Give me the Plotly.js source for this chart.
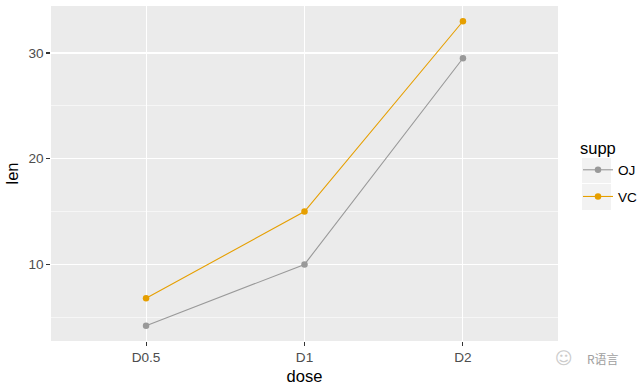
<!DOCTYPE html>
<html>
<head>
<meta charset="utf-8">
<script src="https://cdn.plot.ly/plotly-3.0.1.min.js"></script>
<style>html,body{margin:0;padding:0;background:#fff;}#chart{width:640px;height:387px;}</style>
</head>
<body>
<div id="chart"></div>
<script>
const doses = ["D0.5", "D1", "D2"];
const lenOJ = [4.2, 10, 29.5];
const lenVC = [6.8, 15, 33];
const suppNames = ["OJ", "VC"];
const yTicks = [10, 20, 30];

const font = "Liberation Sans, Arial, sans-serif";
const traces = [
  {x: doses, y: lenOJ, name: suppNames[0], legendgroup: "a", type: "scatter", mode: "lines+markers",
   line: {color: "#999999", width: 1.1}, marker: {color: "#999999", size: 6.5}},
  {x: doses, y: lenVC, name: suppNames[1], legendgroup: "b", type: "scatter", mode: "lines+markers",
   line: {color: "#E69F00", width: 1.1}, marker: {color: "#E69F00", size: 6.5}}
];

// paper coordinate helpers (plot area: x 51..558, y 6..341)
const px = v => (v - 51) / 507;
const py = v => 1 - (v - 6) / 335;

const layout = {
  width: 640, height: 387,
  margin: {l: 51, r: 82, t: 6, b: 46},
  paper_bgcolor: "#ffffff",
  plot_bgcolor: "#EBEBEB",
  font: {family: font, color: "#4D4D4D", size: 13.6},
  showlegend: true,
  xaxis: {
    type: "category", range: [-0.6, 2.6],
    showgrid: true, gridcolor: "#ffffff", gridwidth: 1.1,
    zeroline: false, showline: false,
    ticks: "outside", ticklen: 3.7, tickwidth: 1.1, tickcolor: "#333333",
    tickfont: {family: font, size: 13.6, color: "#4D4D4D"},
    title: {text: "dose", font: {family: font, size: 16.5, color: "#000000"}, standoff: 6}
  },
  yaxis: {
    range: [2.76, 34.44],
    tickvals: yTicks,
    showgrid: true, gridcolor: "#ffffff", gridwidth: 1.1,
    minor: {tickvals: [5, 15, 25], showgrid: true, gridcolor: "#ffffff", gridwidth: 0.55, ticks: ""},
    zeroline: false, showline: false,
    ticks: "outside", ticklen: 3.7, tickwidth: 1.1, tickcolor: "#333333",
    tickfont: {family: font, size: 13.6, color: "#4D4D4D"},
    title: {text: "len", font: {family: font, size: 16.5, color: "#000000"}, standoff: 5}
  },
  legend: {
    xref: "container", yref: "container",
    x: 578/640, y: 1 - 133/387, xanchor: "left", yanchor: "top",
    bgcolor: "rgba(0,0,0,0)",
    title: {text: "supp", font: {family: font, size: 16.5, color: "#000000"}},
    font: {family: font, size: 13.6, color: "#000000"},
    itemwidth: 30, tracegroupgap: 6, traceorder: "grouped"
  },
  shapes: [
    {type: "rect", xref: "paper", yref: "paper", x0: px(582), x1: px(611), y0: py(183), y1: py(158),
     fillcolor: "#F2F2F2", line: {width: 0}, layer: "below"},
    {type: "rect", xref: "paper", yref: "paper", x0: px(582), x1: px(611), y0: py(210), y1: py(184),
     fillcolor: "#F2F2F2", line: {width: 0}, layer: "below"}
  ],
  annotations: [
    {xref: "paper", yref: "paper", x: px(621), y: py(358), xanchor: "right", yanchor: "middle",
     text: "R语言", showarrow: false,
     font: {family: "Noto Sans CJK SC, sans-serif", size: 12, color: "#A0A0A0"}},
    {xref: "paper", yref: "paper", x: px(564), y: py(358), xanchor: "center", yanchor: "middle",
     text: "☺", showarrow: false,
     font: {family: "DejaVu Sans, sans-serif", size: 17, color: "#CCCCCC"}}
  ]
};

Plotly.newPlot("chart", traces, layout, {displayModeBar: false, staticPlot: true});
</script>
</body>
</html>
